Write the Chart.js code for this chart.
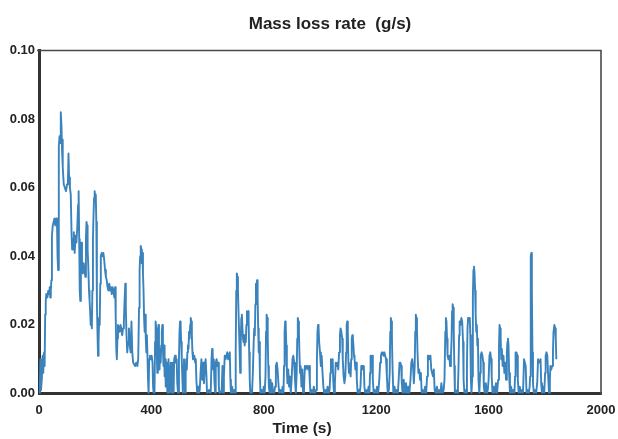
<!DOCTYPE html>
<html><head><meta charset="utf-8">
<script src="https://cdn.jsdelivr.net/npm/chart.js@4.4.0/dist/chart.umd.min.js"></script>
<style>html,body{margin:0;padding:0;background:#fff;overflow:hidden}#wrap{width:618px;height:439px;position:relative}</style>
</head><body><div id="wrap"><canvas id="c" width="618" height="439"></canvas></div>
<script>
const chartTitle = 'Mass loss rate  (g/s)';
const xAxisTitle = 'Time (s)';
const xTicks = [0, 400, 800, 1200, 1600, 2000];
const yTicks = [0, 0.02, 0.04, 0.06, 0.08, 0.10];

const times = [
0,3,5,7,10,13,15,18,20,22,
24,26,30,33,36,38,40,42,44,46,
49,52,55,58,61,64,66,68,70,71,
73,75,77,78,80,82,84,85,88,92,
96,100,103,105,107,110,113,116,118,120,
122,124,127,130,133,136,139,141,143,145,
147,149,151,153,156,159,162,165,167,169,
171,173,175,178,180,182,184,186,188,190,
192,194,196,198,200,202,204,206,208,210,
212,214,216,218,220,223,226,229,232,235,
238,241,244,247,250,253,256,259,262,265,
268,271,273,275,277,279,281,284,287,290,
293,296,299,302,305,307,309,311,314,317,
320,323,326,329,332,335,338,342,346,350,
353,356,358,360,362,364,366,368,370,372,
374,376,378,380,382,384,386,388,390,392,
395,398,401,404,406,408,411,413,415,417,
419,421,423,425,427,429,431,433,435,437,
439,441,443,445,447,449,451,453,455,457,
459,461,463,465,467,469,471,473,475,477,
479,481,484,487,490,492,495,498,500,502,
504,506,508,510,512,514,516,518,520,522,
524,526,528,530,532,534,536,538,540,542,
544,546,548,550,553,556,558,560,563,566,
569,572,575,578,581,584,587,590,593,596,
598,601,605,608,611,614,616,618,620,622,
624,627,629,632,635,638,640,642,646,650,
653,655,658,661,664,667,670,673,676,679,
681,683,687,691,695,698,700,702,704,706,
708,710,712,714,716,718,720,722,724,726,
728,730,732,734,736,738,740,742,744,746,
748,750,752,755,758,761,764,766,768,770,
772,774,776,778,780,782,784,786,788,792,
796,800,803,806,808,810,812,814,816,818,
821,824,827,830,833,837,840,843,846,849,
852,855,859,863,867,870,872,874,876,878,
880,882,884,887,890,893,896,899,902,905,
908,911,914,917,919,921,923,925,927,929,
931,934,937,940,943,946,949,952,955,958,
961,964,966,970,974,978,982,986,989,991,
993,995,997,1000,1003,1006,1009,1012,1015,1019,
1023,1027,1031,1034,1037,1039,1042,1045,1047,1050,
1053,1056,1059,1062,1065,1068,1071,1073,1076,1079,
1081,1084,1087,1090,1093,1095,1097,1099,1101,1103,
1106,1109,1111,1113,1115,1117,1119,1121,1123,1126,
1129,1131,1134,1138,1141,1144,1147,1150,1153,1156,
1158,1161,1165,1169,1173,1176,1178,1180,1183,1186,
1188,1191,1195,1199,1203,1207,1211,1214,1217,1220,
1223,1226,1229,1232,1235,1238,1241,1245,1248,1250,
1252,1254,1256,1258,1261,1265,1269,1273,1277,1280,
1283,1286,1289,1291,1294,1298,1302,1306,1310,1314,
1318,1322,1325,1328,1331,1334,1337,1339,1341,1343,
1345,1347,1350,1353,1356,1359,1362,1366,1370,1374,
1378,1381,1384,1387,1390,1393,1396,1399,1402,1405,
1408,1412,1416,1420,1424,1428,1432,1436,1440,1443,
1446,1448,1450,1452,1454,1457,1460,1463,1466,1468,
1470,1472,1474,1476,1478,1480,1484,1488,1491,1493,
1495,1497,1500,1503,1506,1509,1511,1514,1518,1521,
1523,1525,1527,1530,1533,1535,1537,1539,1542,1544,
1546,1548,1550,1552,1554,1556,1558,1560,1562,1564,
1567,1570,1572,1575,1578,1581,1583,1586,1590,1594,
1597,1600,1603,1606,1609,1611,1614,1618,1622,1626,
1630,1634,1637,1639,1641,1643,1645,1647,1650,1653,
1656,1659,1662,1665,1667,1669,1671,1673,1676,1680,
1684,1688,1692,1694,1696,1699,1702,1704,1707,1711,
1715,1719,1722,1724,1726,1729,1732,1735,1739,1743,
1746,1748,1750,1752,1754,1756,1758,1761,1765,1769,
1773,1776,1779,1782,1785,1787,1790,1794,1798,1801,
1803,1806,1809,1812,1815,1818,1820,1823,1826,1829,
1831,1834,1837,1839,1841
];

const rates = [
0,.002,.010,.001,.004,.011,.006,.012,.008,.023,
.027,.029,.028,.030,.029,.031,.028,.030,.033,.046,
.049,.050,.051,.049,.051,.050,.040,.036,.052,.072,
.075,.073,.080,.082,.078,.071,.074,.066,.061,.060,
.059,.061,.062,.070,.063,.060,.058,.046,.042,.045,
.043,.047,.041,.046,.044,.048,.055,.059,.045,.030,
.027,.040,.044,.037,.035,.038,.036,.034,.045,.050,
.049,.042,.038,.030,.027,.024,.020,.023,.019,.030,
.045,.052,.057,.059,.056,.058,.050,.027,.018,.011,
.015,.022,.020,.032,.040,.041,.040,.041,.039,.036,
.034,.033,.031,.030,.032,.030,.031,.029,.031,.030,
.028,.031,.022,.013,.010,.016,.020,.019,.018,.020,
.019,.017,.019,.021,.028,.032,.025,.018,.012,.015,
.019,.014,.012,.021,.012,.009,.009,.008,.009,.008,
.010,.025,.036,.040,.043,.042,.038,.041,.035,.030,
.022,.018,.023,.016,.012,.017,.011,.004,.000,.010,
.011,.010,.011,.009,.002,.000,.000,.015,.021,.019,
.012,.006,.015,.020,.012,.007,.013,.009,.014,.018,
.020,.013,.008,.014,.005,.010,.002,.009,.004,.000,
.007,.010,.003,.000,.008,.009,.002,.000,.009,.008,
.000,.010,.011,.009,.010,.003,.000,.010,.018,.021,
.020,.015,.010,.005,.000,.008,.010,.003,.000,.006,
.010,.007,.012,.014,.013,.018,.016,.020,.022,.021,
.017,.012,.010,.010,.011,.009,.010,.004,.000,.002,
.000,.001,.006,.010,.004,.009,.003,.008,.010,.005,
.000,.000,.001,.000,.000,.010,.013,.012,.007,.010,
.004,.000,.009,.010,.008,.009,.002,.000,.000,.001,
.008,.000,.005,.011,.010,.011,.012,.010,.011,.012,
.004,.000,.002,.000,.001,.000,.012,.030,.035,.034,
.030,.024,.018,.012,.006,.015,.022,.023,.019,.016,
.015,.017,.014,.016,.015,.020,.024,.023,.024,.021,
.012,.004,.000,.001,.000,.006,.015,.019,.017,.026,
.032,.031,.033,.028,.019,.012,.015,.006,.000,.001,
.000,.002,.000,.005,.018,.023,.022,.016,.008,.002,
.000,.004,.000,.003,.000,.000,.002,.008,.009,.007,
.003,.000,.001,.000,.002,.000,.008,.018,.021,.020,
.014,.007,.003,.007,.002,.005,.000,.004,.010,.011,
.009,.004,.000,.006,.016,.022,.021,.018,.011,.006,
.008,.002,.007,.000,.001,.008,.007,.008,.008,.007,
.008,.003,.000,.001,.000,.002,.000,.001,.010,.018,
.020,.019,.015,.012,.008,.011,.006,.002,.000,.001,
.000,.002,.000,.001,.006,.010,.009,.010,.004,.000,
.003,.009,.008,.009,.007,.012,.017,.019,.018,.016,
.010,.005,.003,.005,.012,.020,.021,.018,.009,.006,
.007,.005,.010,.016,.017,.016,.014,.011,.010,.007,
.009,.004,.000,.001,.000,.002,.008,.008,.007,.008,
.002,.000,.001,.000,.002,.000,.006,.011,.010,.011,
.004,.000,.001,.000,.002,.000,.004,.009,.011,.012,
.012,.011,.012,.011,.010,.005,.000,.001,.006,.018,
.022,.021,.016,.008,.000,.002,.000,.001,.000,.004,
.009,.009,.008,.003,.000,.004,.000,.003,.000,.002,
.000,.004,.009,.010,.008,.003,.008,.018,.023,.022,
.019,.012,.006,.007,.004,.006,.000,.001,.000,.002,
.000,.005,.011,.011,.010,.011,.007,.006,.005,.007,
.001,.000,.002,.000,.001,.000,.003,.000,.001,.004,
.018,.022,.021,.016,.011,.010,.011,.008,.011,.015,
.024,.026,.025,.018,.008,.000,.001,.000,.002,.008,
.017,.021,.020,.022,.021,.015,.004,.000,.001,.000,
.009,.019,.022,.021,.022,.017,.004,.000,.005,.028,
.036,.037,.035,.030,.023,.018,.020,.014,.016,.004,
.000,.006,.011,.012,.011,.009,.002,.000,.003,.000,
.001,.004,.011,.012,.010,.005,.000,.002,.000,.003,
.000,.004,.014,.020,.019,.016,.010,.013,.008,.011,
.006,.009,.004,.012,.015,.016,.014,.006,.000,.002,
.000,.001,.000,.005,.012,.012,.011,.004,.000,.002,
.000,.001,.000,.004,.010,.010,.008,.000,.001,.000,
.002,.005,.040,.041,.030,.012,.003,.000,.001,.000,
.003,.010,.010,.009,.010,.003,.000,.002,.000,.006,
.011,.012,.011,.005,.000,.004,.008,.007,.008,.012,
.018,.020,.019,.016,.010
];

const n = Math.min(times.length, rates.length);
const points = [];
for (let i = 0; i < n; i++) points.push({x: times[i], y: rates[i]});

const FONT = "'Liberation Sans', Arial, Helvetica, sans-serif";

const framePlugin = {
  id: 'frame',
  beforeDatasetsDraw(chart) {
    const {ctx, chartArea: a} = chart;
    ctx.save();
    ctx.strokeStyle = '#4a4a4a';
    ctx.lineWidth = 1.6;
    ctx.beginPath();
    ctx.moveTo(a.left - 2, a.top);
    ctx.lineTo(a.right, a.top);
    ctx.lineTo(a.right, a.bottom + 1.5);
    ctx.stroke();
    ctx.restore();
  },
  afterDraw(chart) {
    const {ctx} = chart;
    ctx.save();
    ctx.fillStyle = '#222';
    ctx.textAlign = 'center';
    ctx.textBaseline = 'alphabetic';
    ctx.font = 'bold 17px ' + FONT;
    ctx.fillText(chartTitle, 330, 29);
    ctx.font = 'bold 15.5px ' + FONT;
    ctx.fillText(xAxisTitle, 302, 433);
    ctx.restore();
  }
};

new Chart(document.getElementById('c'), {
  type: 'line',
  data: {
    datasets: [{
      data: points,
      borderColor: '#3a83bd',
      borderWidth: 1.9,
      borderJoinStyle: 'round',
      pointRadius: 0,
      tension: 0,
      fill: false
    }]
  },
  options: {
    responsive: false,
    animation: false,
    layout: {padding: {top: 50.5, right: 17, bottom: 0, left: 0}},
    plugins: {legend: {display: false}, title: {display: false}, tooltip: {enabled: false}},
    scales: {
      x: {
        type: 'linear', min: 0, max: 2000,
        afterBuildTicks(s) { s.ticks = xTicks.map(v => ({value: v})); },
        afterFit(s) { s.height = 45.5; s.paddingLeft = 0; s.paddingRight = 0; },
        grid: {display: false, drawTicks: false},
        border: {display: true, color: '#333', width: 3},
        ticks: {color: '#222', padding: 9, maxRotation: 0, autoSkip: false,
          font: {family: FONT, size: 13, weight: 'bold'},
          callback: v => String(v)}
      },
      y: {
        min: 0, max: 0.1,
        afterBuildTicks(s) { s.ticks = yTicks.map(v => ({value: v})); },
        afterFit(s) { s.width = 39; s.paddingTop = 0; s.paddingBottom = 0; },
        grid: {display: false, drawTicks: false},
        border: {display: true, color: '#333', width: 3},
        ticks: {color: '#222', padding: 4,
          font: {family: FONT, size: 13, weight: 'bold'},
          callback: v => Number(v).toFixed(2)}
      }
    }
  },
  plugins: [framePlugin]
});
</script>
</body></html>
